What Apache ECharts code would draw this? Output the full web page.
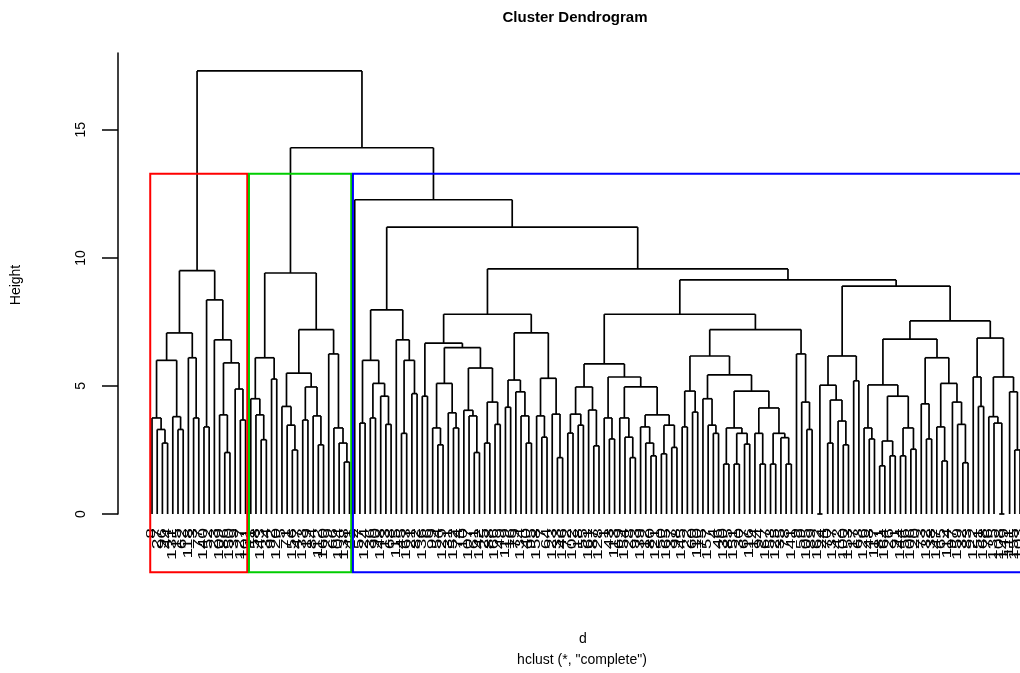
<!DOCTYPE html>
<html>
<head>
<meta charset="utf-8">
<script src="https://cdn.jsdelivr.net/npm/echarts@6/dist/echarts.min.js"></script>
<style>
  html, body { margin: 0; background: #fff; }
  #chart { width: 1020px; height: 673px; }
</style>
</head>
<body>
<div id="chart"></div>
<script>
// merge trees: [height, left, right], 0 = a leaf
const redTree = [9.5,
  [7.07,
    [6.0, [3.75, 0, [3.3, 0, [2.77, 0, 0]]], [3.8, 0, [3.3, 0, 0]]],
    [6.1, 0, [3.75, 0, 0]]],
  [8.36,
    [3.4, 0, 0],
    [6.8, 0, [5.9, [3.87, 0, [2.4, 0, 0]], [4.88, 0, [3.67, 0, 0]]]]]];

const greenTree = [9.41,
  [6.1, [4.5, 0, [3.87, 0, [2.9, 0, 0]]], [5.27, 0, 0]],
  [7.2,
    [5.5, [4.2, 0, [3.47, 0, [2.5, 0, 0]]], [4.96, [3.67, 0, 0], [3.83, 0, [2.7, 0, 0]]]],
    [6.25, 0, [3.36, 0, [2.77, 0, [2.03, 0, 0]]]]]];

const blueC1 = [7.97,
  [6.0, [3.55, 0, 0], [5.1, [3.75, 0, 0], [4.6, 0, [3.5, 0, 0]]]],
  [6.8, 0, [6.0, [3.15, 0, 0], [4.7, 0, 0]]]];

const blueD1 = [7.8,
  [6.67,
    [4.6, 0, 0],
    [6.5,
      [5.1, [3.36, 0, [2.7, 0, 0]], [3.95, 0, [3.36, 0, 0]]],
      [5.7, [4.05, 0, [3.83, 0, [2.4, 0, 0]]], [4.37, [2.77, 0, 0], [3.5, 0, 0]]]]],
  [7.07,
    [5.23, [4.17, 0, 0], [4.77, 0, [3.83, 0, [2.77, 0, 0]]]],
    [5.3, [3.83, 0, [3.0, 0, 0]], [3.9, 0, [2.2, 0, 0]]]]];

const blueF1 = [5.86,
  [4.96, [3.9, [3.16, 0, 0], [3.47, 0, 0]], [4.06, 0, [2.66, 0, 0]]],
  [5.35, [3.75, 0, [2.93, 0, 0]],
    [4.96, [3.75, 0, [3.0, 0, [2.2, 0, 0]]],
      [3.87, [3.4, 0, [2.77, 0, [2.27, 0, 0]]], [3.47, [2.35, 0, 0], [2.6, 0, 0]]]]]];

const blueF2 = [7.2,
  [6.17,
    [4.8, [3.4, 0, 0], [3.98, 0, 0]],
    [5.43,
      [4.5, 0, [3.47, 0, [3.15, 0, 0]]],
      [4.8,
        [3.36, [1.95, 0, 0], [3.15, [1.95, 0, 0], [2.73, 0, 0]]],
        [4.14, [3.15, 0, [1.95, 0, 0]], [3.15, [1.95, 0, 0], [2.98, 0, [1.95, 0, 0]]]]]]],
  [6.25, 0, [4.37, 0, [3.3, 0, 0]]]];

const blueG = [8.9,
  [6.17, [5.03, [0, 0, 0], [4.45, [2.77, 0, 0], [3.63, 0, [2.7, 0, 0]]]], [5.2, 0, 0]],
  [7.54,
    [6.83,
      [5.04, [3.36, 0, [2.93, 0, 0]],
        [4.6, [2.85, [1.88, 0, 0], [2.27, 0, 0]], [3.36, [2.27, 0, 0], [2.53, 0, 0]]]],
      [6.1, [4.3, 0, [2.93, 0, 0]],
        [5.1, [3.4, 0, [2.07, 0, 0]], [4.37, 0, [3.5, 0, [2.0, 0, 0]]]]]],
    [6.87,
      [5.35, 0, [4.2, 0, 0]],
      [5.35, [3.8, 0, [3.55, 0, [0, 0, 0]]], [4.77, 0, [2.5, 0, 0]]]]]];

// heights of the upper joins
const blueJoins = [12.27, 11.2, 9.57, 9.14, 7.8];
const rootJoins = [14.3, 17.3];

// leaf labels, left to right
const redLabels = [8, 27, 96, 44, 131, 15, 62, 118, 3, 77, 140, 52, 23, 109, 86, 150, 39, 127, 101];
const greenLabels = [11, 58, 143, 34, 92, 120, 5, 71, 156, 47, 133, 19, 84, 112, 160, 29, 66, 104, 138, 41];
const blueLabels = [2, 57, 124, 36, 90, 148, 13, 68, 115, 45, 163, 21, 82, 136, 6, 99, 54, 129, 31, 152,
  74, 10, 107, 61, 142, 25, 88, 166, 49, 119, 16, 79, 134, 40, 95, 158, 7, 64, 123, 33,
  146, 72, 102, 18, 55, 161, 87, 128, 1, 43, 113, 69, 154, 28, 93, 139, 12, 80, 121, 50,
  165, 37, 98, 145, 22, 60, 110, 75, 157, 4, 46, 130, 85, 151, 30, 67, 116, 14, 94, 167,
  53, 125, 35, 78, 141, 9, 59, 105, 89, 162, 24, 70, 137, 42, 100, 153, 17, 63, 126, 48,
  117, 81, 164, 26, 91, 144, 56, 106, 20, 73, 132, 38, 147, 65, 114, 97, 159, 32, 83, 122,
  51, 168, 76, 135, 108, 149, 111, 155, 103];

const yTicks = [0, 5, 10, 15];
const boxColors = ['#ff0000', '#00cd00', '#0000ff'];

// put the blue cluster together, then the whole tree
const blueTree = [blueJoins[0], 0,
  [blueJoins[1], blueC1,
    [blueJoins[2], blueD1,
      [blueJoins[3], [blueJoins[4], blueF1, blueF2], blueG]]]];
const fullTree = [rootJoins[1], redTree, [rootJoins[0], greenTree, blueTree]];
const labels = redLabels.concat(greenLabels, blueLabels);

// walk the tree: leaves get x = order index, inner nodes sit between their children
let leafCount = 0;
const segments = [];
function layout(node) {
  if (node === 0) return { x: leafCount++, h: 0 };
  const a = layout(node[1]);
  const b = layout(node[2]);
  const h = node[0];
  segments.push([a.x, a.h, a.x, h], [b.x, b.h, b.x, h], [a.x, h, b.x, h]);
  return { x: (a.x + b.x) / 2, h: h };
}
layout(fullTree);

function countLeaves(node) {
  return node === 0 ? 1 : countLeaves(node[1]) + countLeaves(node[2]);
}

// rect.hclust style boxes, k = 3
const boxTop = (rootJoins[0] + blueJoins[0]) / 2;
const boxBottom = -2.27;
const boxes = [];
let start = 0;
[redTree, greenTree, blueTree].forEach(function (t, i) {
  const n = countLeaves(t);
  boxes.push([start - 0.34, start + n - 1 + 0.33, boxBottom, boxTop, i]);
  start += n;
});

const chart = echarts.init(document.getElementById('chart'));
const font = 'Liberation Sans, Arial, sans-serif';

chart.setOption({
  animation: false,
  backgroundColor: '#fff',
  grid: { left: 152, top: 53, height: 461, width: 5.2 * (leafCount - 1) },
  xAxis: { type: 'value', min: 0, max: leafCount - 1, show: false },
  yAxis: {
    type: 'value', min: 0, max: 18, offset: 34,
    splitLine: { show: false },
    axisLine: { show: true, onZero: false, lineStyle: { color: '#000', width: 1.5 } },
    axisTick: { show: true, length: 16, customValues: yTicks, lineStyle: { color: '#000', width: 1.5 } },
    axisLabel: { customValues: yTicks, rotate: 90, margin: 30, color: '#000', fontSize: 14, fontFamily: font }
  },
  graphic: [
    { type: 'text', x: 575, y: 18, style: { text: 'Cluster Dendrogram', align: 'center', textAlign: 'center', verticalAlign: 'middle', textVerticalAlign: 'middle', font: 'bold 15px ' + font, fill: '#000' } },
    { type: 'text', x: 16, y: 285, rotation: Math.PI / 2, style: { text: 'Height', align: 'center', textAlign: 'center', verticalAlign: 'middle', textVerticalAlign: 'middle', font: '14px ' + font, fill: '#000' } },
    { type: 'text', x: 583, y: 639, style: { text: 'd', align: 'center', textAlign: 'center', verticalAlign: 'middle', textVerticalAlign: 'middle', font: '14px ' + font, fill: '#000' } },
    { type: 'text', x: 582, y: 660, style: { text: 'hclust (*, "complete")', align: 'center', textAlign: 'center', verticalAlign: 'middle', textVerticalAlign: 'middle', font: '14px ' + font, fill: '#000' } }
  ],
  series: [
    {
      type: 'custom',
      silent: true,
      data: segments,
      encode: { x: [0, 2], y: [1, 3] },
      renderItem: function (params, api) {
        const p1 = api.coord([api.value(0), api.value(1)]);
        const p2 = api.coord([api.value(2), api.value(3)]);
        return {
          type: 'line',
          shape: { x1: p1[0], y1: p1[1], x2: p2[0], y2: p2[1] },
          style: { stroke: '#000', lineWidth: 1.7 }
        };
      }
    },
    {
      type: 'custom',
      silent: true,
      data: labels.map(function (l, i) { return [i, 0]; }),
      renderItem: function (params, api) {
        const p = api.coord([api.value(0), api.value(1)]);
        return {
          type: 'text',
          x: p[0],
          y: p[1] + 14,
          rotation: Math.PI / 2,
          scaleX: 1.6,
          style: {
            text: String(labels[params.dataIndex]),
            align: 'right', textAlign: 'right',
            verticalAlign: 'middle', textVerticalAlign: 'middle',
            font: '12px ' + font, fill: '#000'
          }
        };
      }
    },
    {
      type: 'custom',
      silent: true,
      data: boxes,
      renderItem: function (params, api) {
        const p0 = api.coord([api.value(0), api.value(3)]);
        const p1 = api.coord([api.value(1), api.value(2)]);
        return {
          type: 'rect',
          shape: { x: p0[0], y: p0[1], width: p1[0] - p0[0], height: p1[1] - p0[1] },
          style: { fill: 'none', stroke: boxColors[api.value(4)], lineWidth: 2 }
        };
      }
    }
  ]
});
</script>
</body>
</html>
